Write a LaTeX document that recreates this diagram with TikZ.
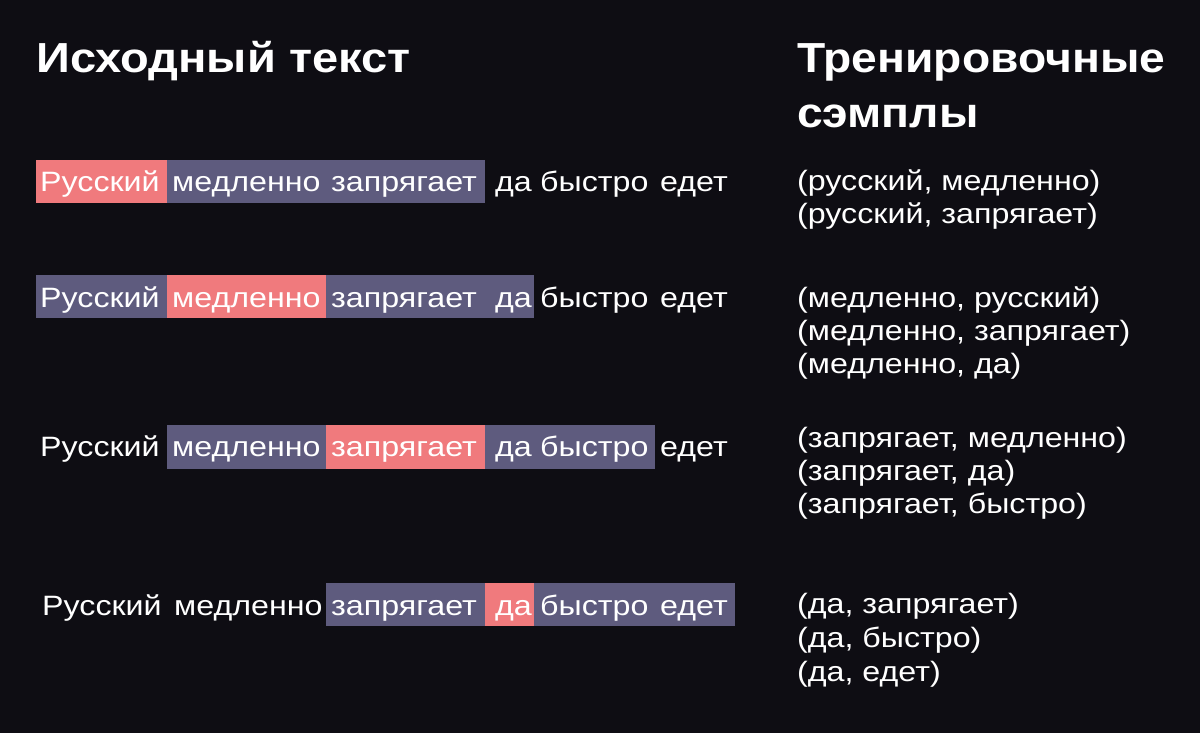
\documentclass[tikz,border=0pt]{standalone}
\usepackage{fontspec}
\setmainfont{Liberation Sans}
\newfontfamily\bodyfnt[FakeStretch=1.15]{Liberation Sans}
\newfontfamily\titlefnt[FakeStretch=1.12]{Liberation Sans}
\newfontfamily\titlefntb[FakeStretch=1.10]{Liberation Sans}
\definecolor{bgc}{HTML}{0E0D13}
\definecolor{hlred}{HTML}{F07A7D}
\definecolor{hlpur}{HTML}{5E5B7E}
\tikzset{
  word/.style={anchor=base west, inner sep=0pt, text=white, font=\bodyfnt\fontsize{28}{34}\selectfont},
  pair/.style={anchor=base west, inner sep=0pt, text=white, font=\bodyfnt\fontsize{28}{34}\selectfont},
  title/.style={anchor=base west, inner sep=0pt, text=white, font=\titlefnt\fontsize{42}{50}\selectfont\bfseries},
  titleb/.style={anchor=base west, inner sep=0pt, text=white, font=\titlefntb\fontsize{42}{50}\selectfont\bfseries},
  redbox/.style={fill=hlred},
  purbox/.style={fill=hlpur}
}
\begin{document}
\begin{tikzpicture}[x=1pt,y=-1pt]
\fill[bgc] (0,0) rectangle (1200,733);
\useasboundingbox (0,0) rectangle (1200,733);

% titles
\node[title] (t1) at (36,73) {Исходный текст};
\node[titleb] (t2) at (797,73) {Тренировочные};
\node[titleb] (t3) at (797,128) {сэмплы};

% row 1 boxes
\fill[redbox] (36,160) rectangle (167,203);
\fill[purbox] (167,160) rectangle (326,203);
\fill[purbox] (326,160) rectangle (485,203);
% row 2 boxes
\fill[purbox] (36,275) rectangle (167,318);
\fill[redbox] (167,275) rectangle (326,318);
\fill[purbox] (326,275) rectangle (485,318);
\fill[purbox] (485,275) rectangle (534,318);
% row 3 boxes
\fill[purbox] (167,425) rectangle (326,469);
\fill[redbox] (326,425) rectangle (485,469);
\fill[purbox] (485,425) rectangle (534,469);
\fill[purbox] (534,425) rectangle (655,469);
% row 4 boxes
\fill[purbox] (326,583) rectangle (485,626);
\fill[redbox] (485,583) rectangle (534,626);
\fill[purbox] (534,583) rectangle (655,626);
\fill[purbox] (655,583) rectangle (735,626);

% words, rows
\foreach \r/\y/\xo in {1/192/0,2/307/0,3/456/0,4/615/2}{
  \node[word] (w\r a) at (40+\xo,\y) {Русский};
  \node[word] (w\r b) at (172+\xo,\y) {медленно};
  \node[word] (w\r c) at (331,\y) {запрягает};
  \node[word] (w\r d) at (495,\y) {да};
  \node[word] (w\r e) at (540,\y) {быстро};
  \node[word] (w\r f) at (660,\y) {едет};
}

% pairs
\node[pair] (p1a) at (797,190) {(русский, медленно)};
\node[pair] (p1b) at (797,223) {(русский, запрягает)};
\node[pair] (p2a) at (797,307) {(медленно, русский)};
\node[pair] (p2b) at (797,340) {(медленно, запрягает)};
\node[pair] (p2c) at (797,373) {(медленно, да)};
\node[pair] (p3a) at (797,447) {(запрягает, медленно)};
\node[pair] (p3b) at (797,480) {(запрягает, да)};
\node[pair] (p3c) at (797,513) {(запрягает, быстро)};
\node[pair] (p4a) at (797,613) {(да, запрягает)};
\node[pair] (p4b) at (797,647) {(да, быстро)};
\node[pair] (p4c) at (797,681) {(да, едет)};
\end{tikzpicture}
\end{document}
